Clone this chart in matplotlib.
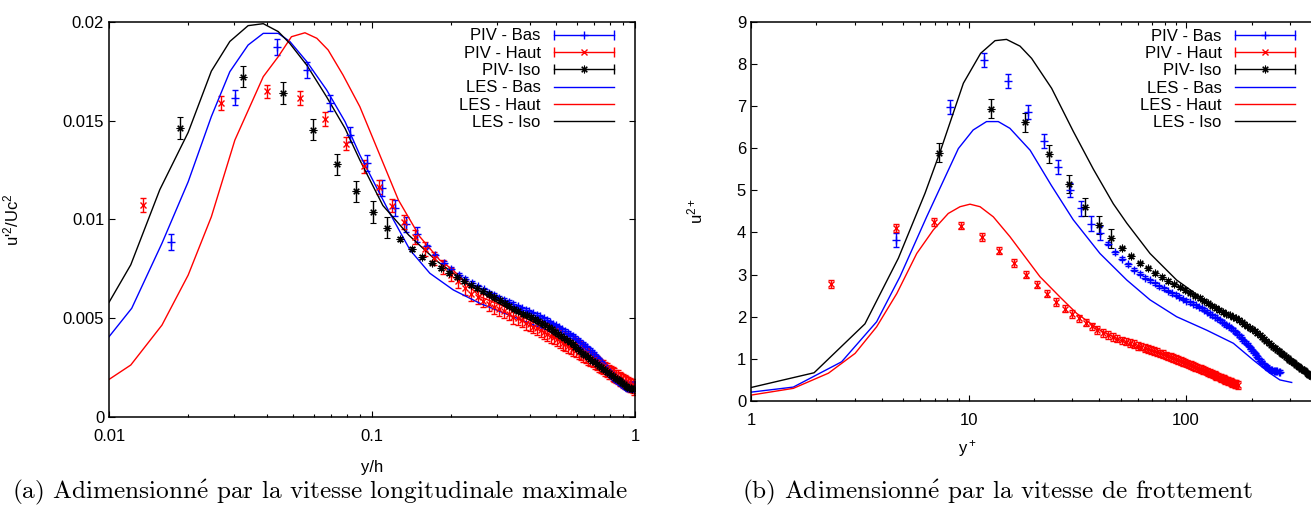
import numpy as np
import matplotlib
matplotlib.use("Agg")
import matplotlib.pyplot as plt
from matplotlib.lines import Line2D
from matplotlib.legend_handler import HandlerBase
from matplotlib.ticker import FixedLocator, LogLocator, FuncFormatter, NullFormatter

plt.rcParams["font.family"] = ["Liberation Sans", "DejaVu Sans"]
plt.rcParams["mathtext.default"] = "regular"
plt.rcParams["mathtext.fontset"] = "cm"
plt.rcParams["font.size"] = 12

# ---- PIV data, in wall units (panel b); panel a is the same data rescaled ----
piv_bas_yp = [4.64, 8.18, 11.72, 15.26, 18.80, 22.34, 25.88, 29.42, 32.96, 36.50,
              40.04, 43.58, 47.12, 50.66, 54.20, 57.74, 61.28, 64.82, 68.36, 71.90,
              75.44, 78.98, 82.52, 86.06, 89.60, 93.14, 96.68, 100.22, 103.76, 107.30,
              110.84, 114.38, 117.92, 121.46, 125.00, 128.54, 132.08, 135.62, 139.16, 142.70,
              146.24, 149.78, 153.32, 156.86, 160.40, 163.94, 167.48, 171.02, 174.56, 178.10,
              181.64, 185.18, 188.72, 192.26, 195.80, 199.34, 202.88, 206.42, 209.96, 213.50,
              217.04, 220.58, 224.12, 227.66, 231.20, 234.74, 238.28, 241.82, 245.36, 248.90,
              252.44, 255.98, 259.52, 263.06, 266.60, 270.14]
piv_bas_up = [3.82, 6.98, 8.09, 7.59, 6.86, 6.17, 5.55, 5.00, 4.57, 4.21,
              3.99, 3.73, 3.53, 3.37, 3.24, 3.11, 3.02, 2.93, 2.86, 2.79,
              2.72, 2.67, 2.61, 2.56, 2.52, 2.47, 2.42, 2.38, 2.34, 2.31,
              2.27, 2.23, 2.20, 2.16, 2.12, 2.07, 2.03, 2.00, 1.96, 1.92,
              1.88, 1.84, 1.80, 1.77, 1.73, 1.69, 1.65, 1.60, 1.56, 1.52,
              1.47, 1.42, 1.38, 1.33, 1.28, 1.23, 1.18, 1.13, 1.08, 1.03,
              0.99, 0.95, 0.91, 0.87, 0.84, 0.81, 0.78, 0.76, 0.74, 0.73,
              0.72, 0.71, 0.70, 0.70, 0.69, 0.69]
piv_bas_err = [0.17] * 11 + [0.035] * 65

piv_haut_yp = [2.33, 4.63, 6.93, 9.23, 11.53, 13.83, 16.13, 18.43, 20.73, 23.03,
               25.33, 27.63, 29.93, 32.23, 34.53, 36.83, 39.13, 41.43, 43.73, 46.03,
               48.33, 50.63, 52.93, 55.23, 57.53, 59.83, 62.13, 64.43, 66.73, 69.03,
               71.33, 73.63, 75.93, 78.23, 80.53, 82.83, 85.13, 87.43, 89.73, 92.03,
               94.33, 96.63, 98.93, 101.23, 103.53, 105.83, 108.13, 110.43, 112.73, 115.03,
               117.33, 119.63, 121.93, 124.23, 126.53, 128.83, 131.13, 133.43, 135.73, 138.03,
               140.33, 142.63, 144.93, 147.23, 149.53, 151.83, 154.13, 156.43, 158.73, 161.03,
               163.33, 165.63, 167.93, 170.23, 172.53]
piv_haut_up = [2.77, 4.10, 4.25, 4.16, 3.89, 3.57, 3.27, 3.00, 2.76, 2.55,
               2.35, 2.19, 2.07, 1.96, 1.86, 1.77, 1.68, 1.61, 1.56, 1.52,
               1.48, 1.44, 1.41, 1.38, 1.35, 1.31, 1.29, 1.26, 1.23, 1.21,
               1.18, 1.16, 1.13, 1.11, 1.08, 1.06, 1.04, 1.02, 0.99, 0.97,
               0.95, 0.93, 0.91, 0.89, 0.87, 0.85, 0.83, 0.81, 0.79, 0.77,
               0.76, 0.74, 0.72, 0.70, 0.68, 0.66, 0.65, 0.63, 0.61, 0.59,
               0.58, 0.56, 0.55, 0.53, 0.52, 0.50, 0.49, 0.47, 0.46, 0.45,
               0.43, 0.42, 0.41, 0.40, 0.38]
piv_haut_err = [0.09] * 75

piv_iso_yp = [7.35, 12.75, 18.15, 23.55, 28.95, 34.35, 39.75, 45.15, 50.55, 55.95,
              61.35, 66.75, 72.15, 77.55, 82.95, 88.35, 93.75, 99.15, 104.55, 109.95,
              115.35, 120.75, 126.15, 131.55, 136.95, 142.35, 147.75, 153.15, 158.55, 163.95,
              169.35, 174.75, 180.15, 185.55, 190.95, 196.35, 201.75, 207.15, 212.55, 217.95,
              223.35, 228.75, 234.15, 239.55, 244.95, 250.35, 255.75, 261.15, 266.55, 271.95,
              277.35, 282.75, 288.15, 293.55, 298.95, 304.35, 309.75, 315.15, 320.55, 325.95,
              331.35, 336.75, 342.15, 347.55, 352.95, 358.35, 363.75, 369.15, 374.55, 379.95,
              385.35, 390.75]
piv_iso_up = [5.89, 6.94, 6.61, 5.86, 5.15, 4.60, 4.18, 3.86, 3.62, 3.43,
              3.27, 3.15, 3.03, 2.94, 2.85, 2.77, 2.70, 2.63, 2.57, 2.50,
              2.44, 2.38, 2.32, 2.26, 2.21, 2.16, 2.11, 2.07, 2.03, 2.00,
              1.96, 1.92, 1.87, 1.83, 1.79, 1.74, 1.70, 1.66, 1.61, 1.57,
              1.52, 1.48, 1.43, 1.38, 1.34, 1.29, 1.26, 1.22, 1.19, 1.15,
              1.12, 1.08, 1.05, 1.01, 0.98, 0.95, 0.92, 0.89, 0.86, 0.83,
              0.80, 0.77, 0.75, 0.73, 0.70, 0.67, 0.64, 0.62, 0.60, 0.59,
              0.58, 0.58]
piv_iso_err = [0.22] * 8 + [0.04] * 64

# Re_tau and (Uc/u_tau)^2 of each PIV case
re_tau = {"Bas": 270.4, "Haut": 173.5, "Iso": 395.0}
uc_over_utau2 = {"Bas": 432.0, "Haut": 258.0, "Iso": 403.0}

# ---- LES, panel (a): y/h, u'^2/Uc^2 ----
les_a_bas_x = [0.01, 0.0122, 0.0159, 0.0200, 0.0245, 0.0288, 0.0338, 0.0386, 0.0440, 0.0487,
               0.0565, 0.0672, 0.0790, 0.0899, 0.117, 0.1395, 0.166, 0.2037, 0.2574, 0.3445,
               0.461, 0.618, 0.736, 0.827, 0.929, 1.0]
les_a_bas_y = [0.00406, 0.0055, 0.00879, 0.0119, 0.0152, 0.01747, 0.01882, 0.01941, 0.01941, 0.0190,
               0.01798, 0.01655, 0.01494, 0.01326, 0.0103, 0.00845, 0.00727, 0.00643, 0.00575, 0.00507,
               0.0044, 0.00356, 0.00254, 0.00179, 0.00128, 0.00125]
les_a_haut_x = [0.01, 0.0121, 0.0159, 0.0200, 0.0245, 0.0301, 0.0386, 0.0440, 0.0494, 0.0556,
                0.0617, 0.0681, 0.0776, 0.0899, 0.126, 0.152, 0.181, 0.203, 0.257, 0.344,
                0.461, 0.618, 0.736, 0.87, 1.0]
les_a_haut_y = [0.0019, 0.00263, 0.00465, 0.00718, 0.01013, 0.01401, 0.01722, 0.01823, 0.01924, 0.01944,
                0.01916, 0.01857, 0.0173, 0.0157, 0.01098, 0.00912, 0.00794, 0.00744, 0.00609, 0.00541,
                0.00474, 0.0039, 0.00288, 0.00179, 0.00153]
les_a_iso_x = [0.01, 0.0121, 0.0156, 0.0200, 0.0245, 0.0288, 0.0338, 0.0386, 0.0440, 0.0487,
               0.0565, 0.0672, 0.0790, 0.0899, 0.110, 0.138, 0.176, 0.234, 0.30, 0.426,
               0.607, 0.778, 0.90, 1.0]
les_a_iso_y = [0.0058, 0.0077, 0.0115, 0.0144, 0.0175, 0.0190, 0.0198, 0.0199, 0.0195, 0.0189,
               0.0178, 0.0162, 0.0146, 0.0130, 0.0107, 0.0092, 0.0079, 0.0067, 0.0058, 0.0047,
               0.0034, 0.0023, 0.0017, 0.0015]

# ---- LES, panel (b): y+, u^2+ ----
les_b_bas_x = [1, 1.565, 2.61, 3.78, 4.84, 6.42, 8.98, 10.5, 12.1, 13.7, 15.5, 19.2, 24.0,
               30.3, 40.2, 53.4, 68.3, 90.5, 124.5, 165, 204, 243, 270, 306]
les_b_bas_y = [0.21, 0.33, 0.93, 1.88, 2.95, 4.37, 5.99, 6.43, 6.63, 6.63, 6.47, 5.95, 5.12,
               4.3, 3.5, 2.87, 2.40, 2.0, 1.68, 1.37, 0.97, 0.66, 0.5, 0.44]
les_b_haut_x = [1, 1.565, 2.27, 3.01, 3.78, 4.68, 5.78, 6.89, 8.07, 9.14, 10.16, 11.3, 13.0,
                15.5, 17.25, 21.3, 26.3, 31.4, 40.2, 57.3, 81.5, 116, 154, 174]
les_b_haut_y = [0.14, 0.30, 0.66, 1.13, 1.76, 2.55, 3.5, 4.06, 4.45, 4.61, 4.67, 4.61, 4.37,
                3.9, 3.58, 2.95, 2.47, 2.08, 1.68, 1.29, 0.97, 0.66, 0.42, 0.38]
les_b_iso_x = [1, 1.95, 3.34, 4.76, 6.31, 7.4, 9.47, 11.37, 13.24, 14.95, 17.25, 19.5, 24.1,
               30.3, 37.5, 46.3, 53.4, 68.3, 90.5, 116, 165, 235, 301, 376, 390]
les_b_iso_y = [0.32, 0.67, 1.83, 3.39, 4.93, 5.91, 7.54, 8.25, 8.55, 8.58, 8.42, 8.13, 7.42,
               6.4, 5.5, 4.68, 4.22, 3.5, 2.87, 2.47, 2.0, 1.45, 0.97, 0.58, 0.54]

cases = ["Bas", "Haut", "Iso"]
colors = {"Bas": "#0000ff", "Haut": "#ff0000", "Iso": "#000000"}
markers = {"Bas": "+", "Haut": "x", "Iso": (8, 2, 0)}
msizes = {"Bas": 6, "Haut": 5, "Iso": 5.5}
mwidths = {"Bas": 1.0, "Haut": 1.0, "Iso": 0.8}
piv_labels = {"Bas": "PIV - Bas", "Haut": "PIV - Haut", "Iso": "PIV- Iso"}
les_labels = {"Bas": "LES - Bas", "Haut": "LES - Haut", "Iso": "LES - Iso"}
piv = {
    "Bas": (piv_bas_yp, piv_bas_up, piv_bas_err),
    "Haut": (piv_haut_yp, piv_haut_up, piv_haut_err),
    "Iso": (piv_iso_yp, piv_iso_up, piv_iso_err),
}
les_a = {"Bas": (les_a_bas_x, les_a_bas_y), "Haut": (les_a_haut_x, les_a_haut_y),
         "Iso": (les_a_iso_x, les_a_iso_y)}
les_b = {"Bas": (les_b_bas_x, les_b_bas_y), "Haut": (les_b_haut_x, les_b_haut_y),
         "Iso": (les_b_iso_x, les_b_iso_y)}


class HandlerHBar(HandlerBase):
    """gnuplot-like key sample: horizontal bar with end caps and a point in the middle"""
    def create_artists(self, legend, orig_handle, xdescent, ydescent, width, height, fontsize, trans):
        y = height / 2.0 - ydescent
        x0, x1 = -xdescent, width - xdescent
        c = orig_handle.get_color()
        bar = Line2D([x0, x1], [y, y], color=c, lw=1.0, transform=trans)
        caps = Line2D([x0, x1], [y, y], color=c, ls="none", marker="|", markersize=7,
                      mew=1.0, transform=trans)
        mid = Line2D([(x0 + x1) / 2], [y], color=c, ls="none", marker=orig_handle.get_marker(),
                     markersize=orig_handle.get_markersize(), mew=orig_handle.get_markeredgewidth(),
                     transform=trans)
        return [bar, caps, mid]


def draw_panel(ax, wall_units, les):
    proxies, les_lines = [], []
    for c in cases:
        yp, up, err = piv[c]
        if wall_units:
            x, y, e = np.array(yp), np.array(up), np.array(err)
        else:
            x = np.array(yp) / re_tau[c]
            y = np.array(up) / uc_over_utau2[c]
            e = np.array(err) / uc_over_utau2[c]
        ax.errorbar(x, y, yerr=e, ls="none", marker=markers[c], ms=msizes[c], mew=mwidths[c],
                    color=colors[c], ecolor=colors[c], elinewidth=1.0, capsize=2.5, capthick=1.0)
        proxies.append(Line2D([], [], color=colors[c], marker=markers[c], ms=msizes[c],
                              mew=mwidths[c]))
    for c in cases:
        lx, ly = les[c]
        ln, = ax.plot(lx, ly, color=colors[c], lw=1.0)
        les_lines.append(ln)
    handles = proxies + les_lines
    labels = [piv_labels[c] for c in cases] + [les_labels[c] for c in cases]
    return handles, labels, proxies


def style_axes(ax):
    ax.set_xscale("log")
    ax.tick_params(which="both", direction="in", top=True, right=True)
    ax.tick_params(which="major", length=4.5, width=0.8)
    ax.tick_params(which="minor", length=2.5, width=0.8)
    ax.tick_params(axis="x", which="major", pad=8.5)
    ax.tick_params(axis="y", which="major", pad=3.5)
    ax.xaxis.set_minor_locator(LogLocator(base=10, subs=np.arange(2, 10)))
    ax.xaxis.set_minor_formatter(NullFormatter())
    ax.xaxis.set_major_formatter(FuncFormatter(lambda v, p: "%g" % v))
    ax.yaxis.set_major_formatter(FuncFormatter(lambda v, p: "%g" % v))
    for s in ax.spines.values():
        s.set_linewidth(1.1)


fig = plt.figure(figsize=(13.11, 5.09), dpi=100)
W, H = 1311.0, 509.0

ax1 = fig.add_axes([109 / W, (H - 417) / H, 526 / W, 395.3 / H])
h1, l1, p1 = draw_panel(ax1, False, les_a)
style_axes(ax1)
ax1.set_xlim(0.01, 1)
ax1.set_ylim(0, 0.02)
ax1.xaxis.set_major_locator(FixedLocator([0.01, 0.1, 1]))
ax1.yaxis.set_major_locator(FixedLocator([0, 0.005, 0.01, 0.015, 0.02]))
ax1.set_xlabel("y/h")
ax1.xaxis.set_label_coords(0.5, -0.108)
ax1.set_ylabel("u'$^2$/Uc$^2$")
ax1.yaxis.set_label_coords(-0.167, 0.5)
ax1.legend(h1, l1, loc="upper right", bbox_to_anchor=(0.960, 0.983), borderaxespad=0,
           borderpad=0, frameon=False, markerfirst=False, handlelength=3.6, handletextpad=0.8,
           labelspacing=0.14, fontsize=12, handler_map={p: HandlerHBar() for p in p1})

ax2 = fig.add_axes([751 / W, (H - 401) / H, 566 / W, 379.3 / H])
h2, l2, p2 = draw_panel(ax2, True, les_b)
style_axes(ax2)
ax2.set_xlim(1, 400)
ax2.set_ylim(0, 9)
ax2.xaxis.set_major_locator(FixedLocator([1, 10, 100]))
ax2.yaxis.set_major_locator(FixedLocator(list(range(10))))
ax2.set_xlabel("y$^+$")
ax2.xaxis.set_label_coords(0.383, -0.097)
ax2.set_ylabel("u$^{2+}$")
ax2.yaxis.set_label_coords(-0.081, 0.5)
ax2.legend(h2, l2, loc="upper right", bbox_to_anchor=(0.961, 0.982), borderaxespad=0,
           borderpad=0, frameon=False, markerfirst=False, handlelength=3.6, handletextpad=0.8,
           labelspacing=0.14, fontsize=12, handler_map={p: HandlerHBar() for p in p2})

cap_a = r"(a) Adimensionn$\acute{\mathrm{e}}$ par la vitesse longitudinale maximale"
cap_b = r"(b) Adimensionn$\acute{\mathrm{e}}$ par la vitesse de frottement"
fig.text(320 / W, 1 - 492 / H, cap_a, ha="center", va="center", fontsize=18.2, family="cmr10")
fig.text(997 / W, 1 - 492 / H, cap_b, ha="center", va="center", fontsize=18.2, family="cmr10")

fig.savefig("out.png", dpi=100)
